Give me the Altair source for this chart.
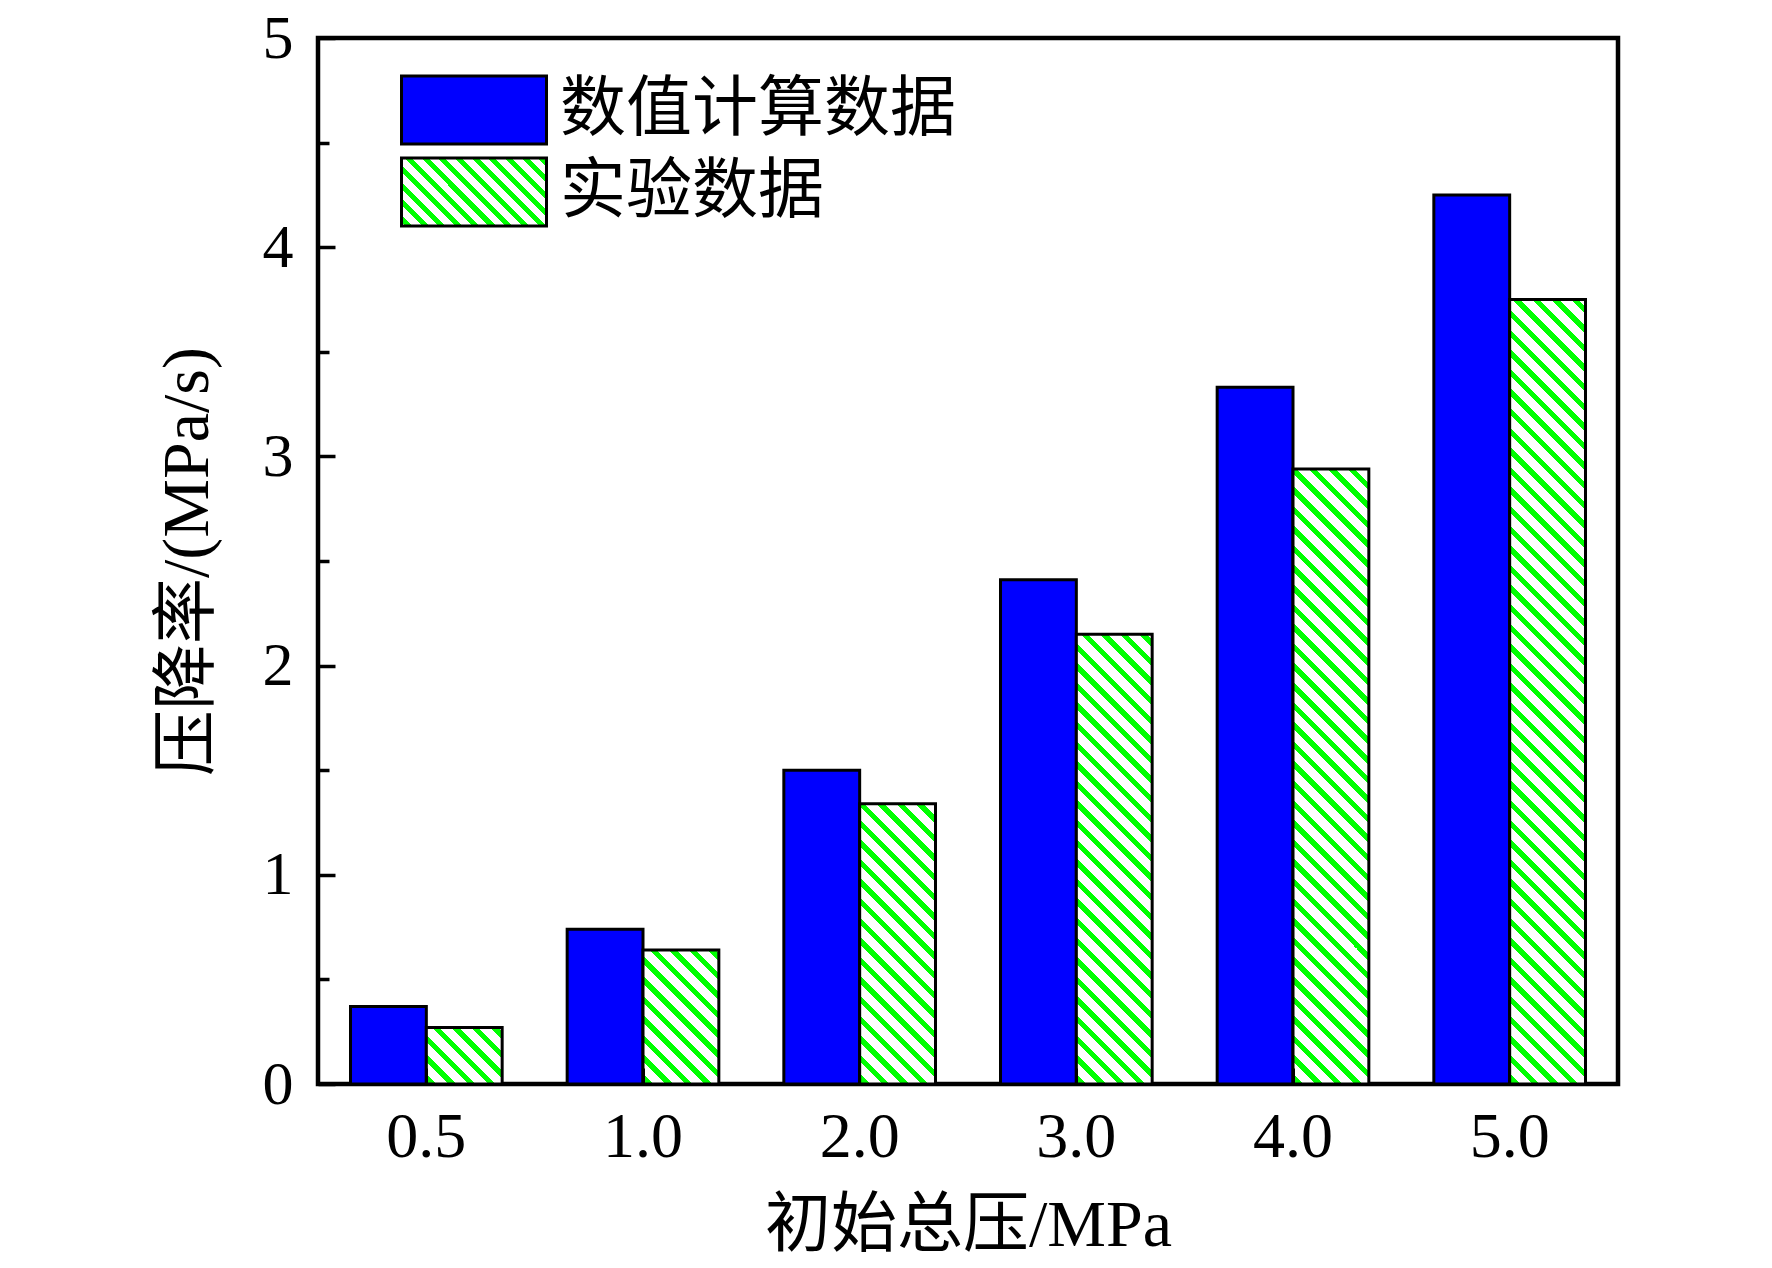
import json
import altair as alt
import pandas as pd

# ---------------- data ----------------
categories = ["0.5", "1.0", "2.0", "3.0", "4.0", "5.0"]
numerical = [0.37, 0.74, 1.50, 2.41, 3.33, 4.25]      # 数值计算数据
experimental = [0.27, 0.64, 1.34, 2.15, 2.94, 3.75]   # 实验数据
series_names = ["数值计算数据", "实验数据"]
y_ticks = [0, 0.5, 1, 1.5, 2, 2.5, 3, 3.5, 4, 4.5, 5]
x_title = "初始总压/MPa"
y_title = "压降率/(MPa/s)"

# ---------------- layout / style ----------------
W, H = 1300, 1046
Y_MAX = 5
PAD_INNER, PAD_OUTER = 0.3, 0.15
BLUE = "#0000ff"
GREEN = "#00ff00"
FONT = "'Liberation Serif', 'Noto Sans CJK SC', serif"

rows = []
for c, a, b in zip(categories, numerical, experimental):
    rows.append({"cat": c, "series": series_names[0], "value": a})
    rows.append({"cat": c, "series": series_names[1], "value": b})
df = pd.DataFrame(rows)

step = W / (len(categories) - PAD_INNER + 2 * PAD_OUTER)
bar_w = step * (1 - PAD_INNER) / 2
py = H / Y_MAX


def hatch(w, h, period, frac, phase=0.0):
    """Linear gradient with hard stops giving 45-degree '\\' stripes."""
    L = w + h
    s = L / (w * w + h * h)
    stops = [{"offset": 0, "color": "white"}]
    k = -1
    while True:
        a = k * period + phase
        if a > L:
            break
        b = a + frac * period
        for off, col in ((a, "white"), (a, GREEN), (b, GREEN), (b, "white")):
            o = min(max(off / L, 0.0), 1.0)
            stops.append({"offset": round(o, 6), "color": col})
        k += 1
    stops.append({"offset": 1, "color": "white"})
    return {"gradient": "linear", "x1": 0, "y1": 1,
            "x2": round(s * w, 6), "y2": round(1 - s * h, 6), "stops": stops}


legend_grad = hatch(145, 68, 16.7, 0.42, 4)
legend_expr = json.dumps(legend_grad)

x_enc = alt.X("cat:N", sort=categories,
              scale=alt.Scale(domain=categories, paddingInner=PAD_INNER, paddingOuter=PAD_OUTER),
              axis=alt.Axis(orient="bottom", offset=-16, domain=False, grid=False,
                            ticks=True, tickSize=16, tickWidth=3, tickColor="black",
                            labelAngle=0, labelPadding=21, labelBaseline="top",
                            labelFont=FONT, labelFontSize=64, labelColor="black",
                            title=x_title, titleFont=FONT, titleFontSize=66,
                            titleFontWeight="normal", titleColor="black",
                            titleX=W / 2, titleY=157, titleAlign="center",
                            titleBaseline="middle", zindex=1))
xoff_enc = alt.XOffset("series:N", sort=series_names,
                       scale=alt.Scale(domain=series_names, paddingInner=0, paddingOuter=0))
y_enc = alt.Y("value:Q",
              scale=alt.Scale(domain=[0, Y_MAX], nice=False, zero=True),
              axis=alt.Axis(orient="right", offset=-W, values=y_ticks, domain=False, grid=False,
                            tickSize={"condition": {"test": "datum.value % 1 === 0", "value": 17},
                                      "value": 11},
                            tickWidth=3.5, tickColor="black",
                            labelExpr="datum.value % 1 === 0 ? format(datum.value, 'd') : ''",
                            labelAlign="right", labelBaseline="middle", labelPadding=-42,
                            labelOverlap=False, labelFont=FONT, labelFontSize=62,
                            labelColor="black",
                            title=y_title, titleFont=FONT, titleFontSize=66,
                            titleFontWeight="normal", titleColor="black", titleAngle=270,
                            titleX=-131, titleY=H / 2, titleAlign="center",
                            titleBaseline="middle", zindex=1))

blue_layer = alt.Chart(df).transform_filter(
    alt.datum.series == series_names[0]
).mark_bar(stroke="black", strokeWidth=3, opacity=1).encode(
    x=x_enc, xOffset=xoff_enc, y=y_enc,
    color=alt.Color("series:N",
                    scale=alt.Scale(domain=series_names, range=[BLUE, {"expr": legend_expr}]),
                    legend=alt.Legend(title=None, orient="none", legendX=82, legendY=36,
                                      symbolType="M-1,-0.469H1V0.469H-1Z",
                                      symbolSize=145 * 145, symbolStrokeColor="black",
                                      symbolStrokeWidth=3, symbolOpacity=1,
                                      clipHeight=72,
                                      labelFont=FONT, labelFontSize=66, labelColor="black",
                                      labelLimit=1000, labelOffset=12, rowPadding=10,
                                      padding=0)),
)

layers = [blue_layer]
for cat, val in zip(categories, experimental):
    grad = hatch(bar_w, val * py, 19.6, 0.38, 3)
    layer = alt.Chart(df).transform_filter(
        (alt.datum.series == series_names[1]) & (alt.datum.cat == cat)
    ).mark_bar(fill=grad, stroke="black", strokeWidth=3, opacity=1).encode(
        x=x_enc, xOffset=xoff_enc, y=y_enc,
    )
    layers.append(layer)

chart = alt.layer(*layers).properties(
    width=W, height=H,
    autosize=alt.AutoSizeParams(type="none"),
    padding={"left": 310, "top": 30, "right": 140, "bottom": 176},
    background="white",
).configure_view(stroke="black", strokeWidth=4.5)

chart.save("out.html", embed_options={"renderer": "svg", "actions": False})
